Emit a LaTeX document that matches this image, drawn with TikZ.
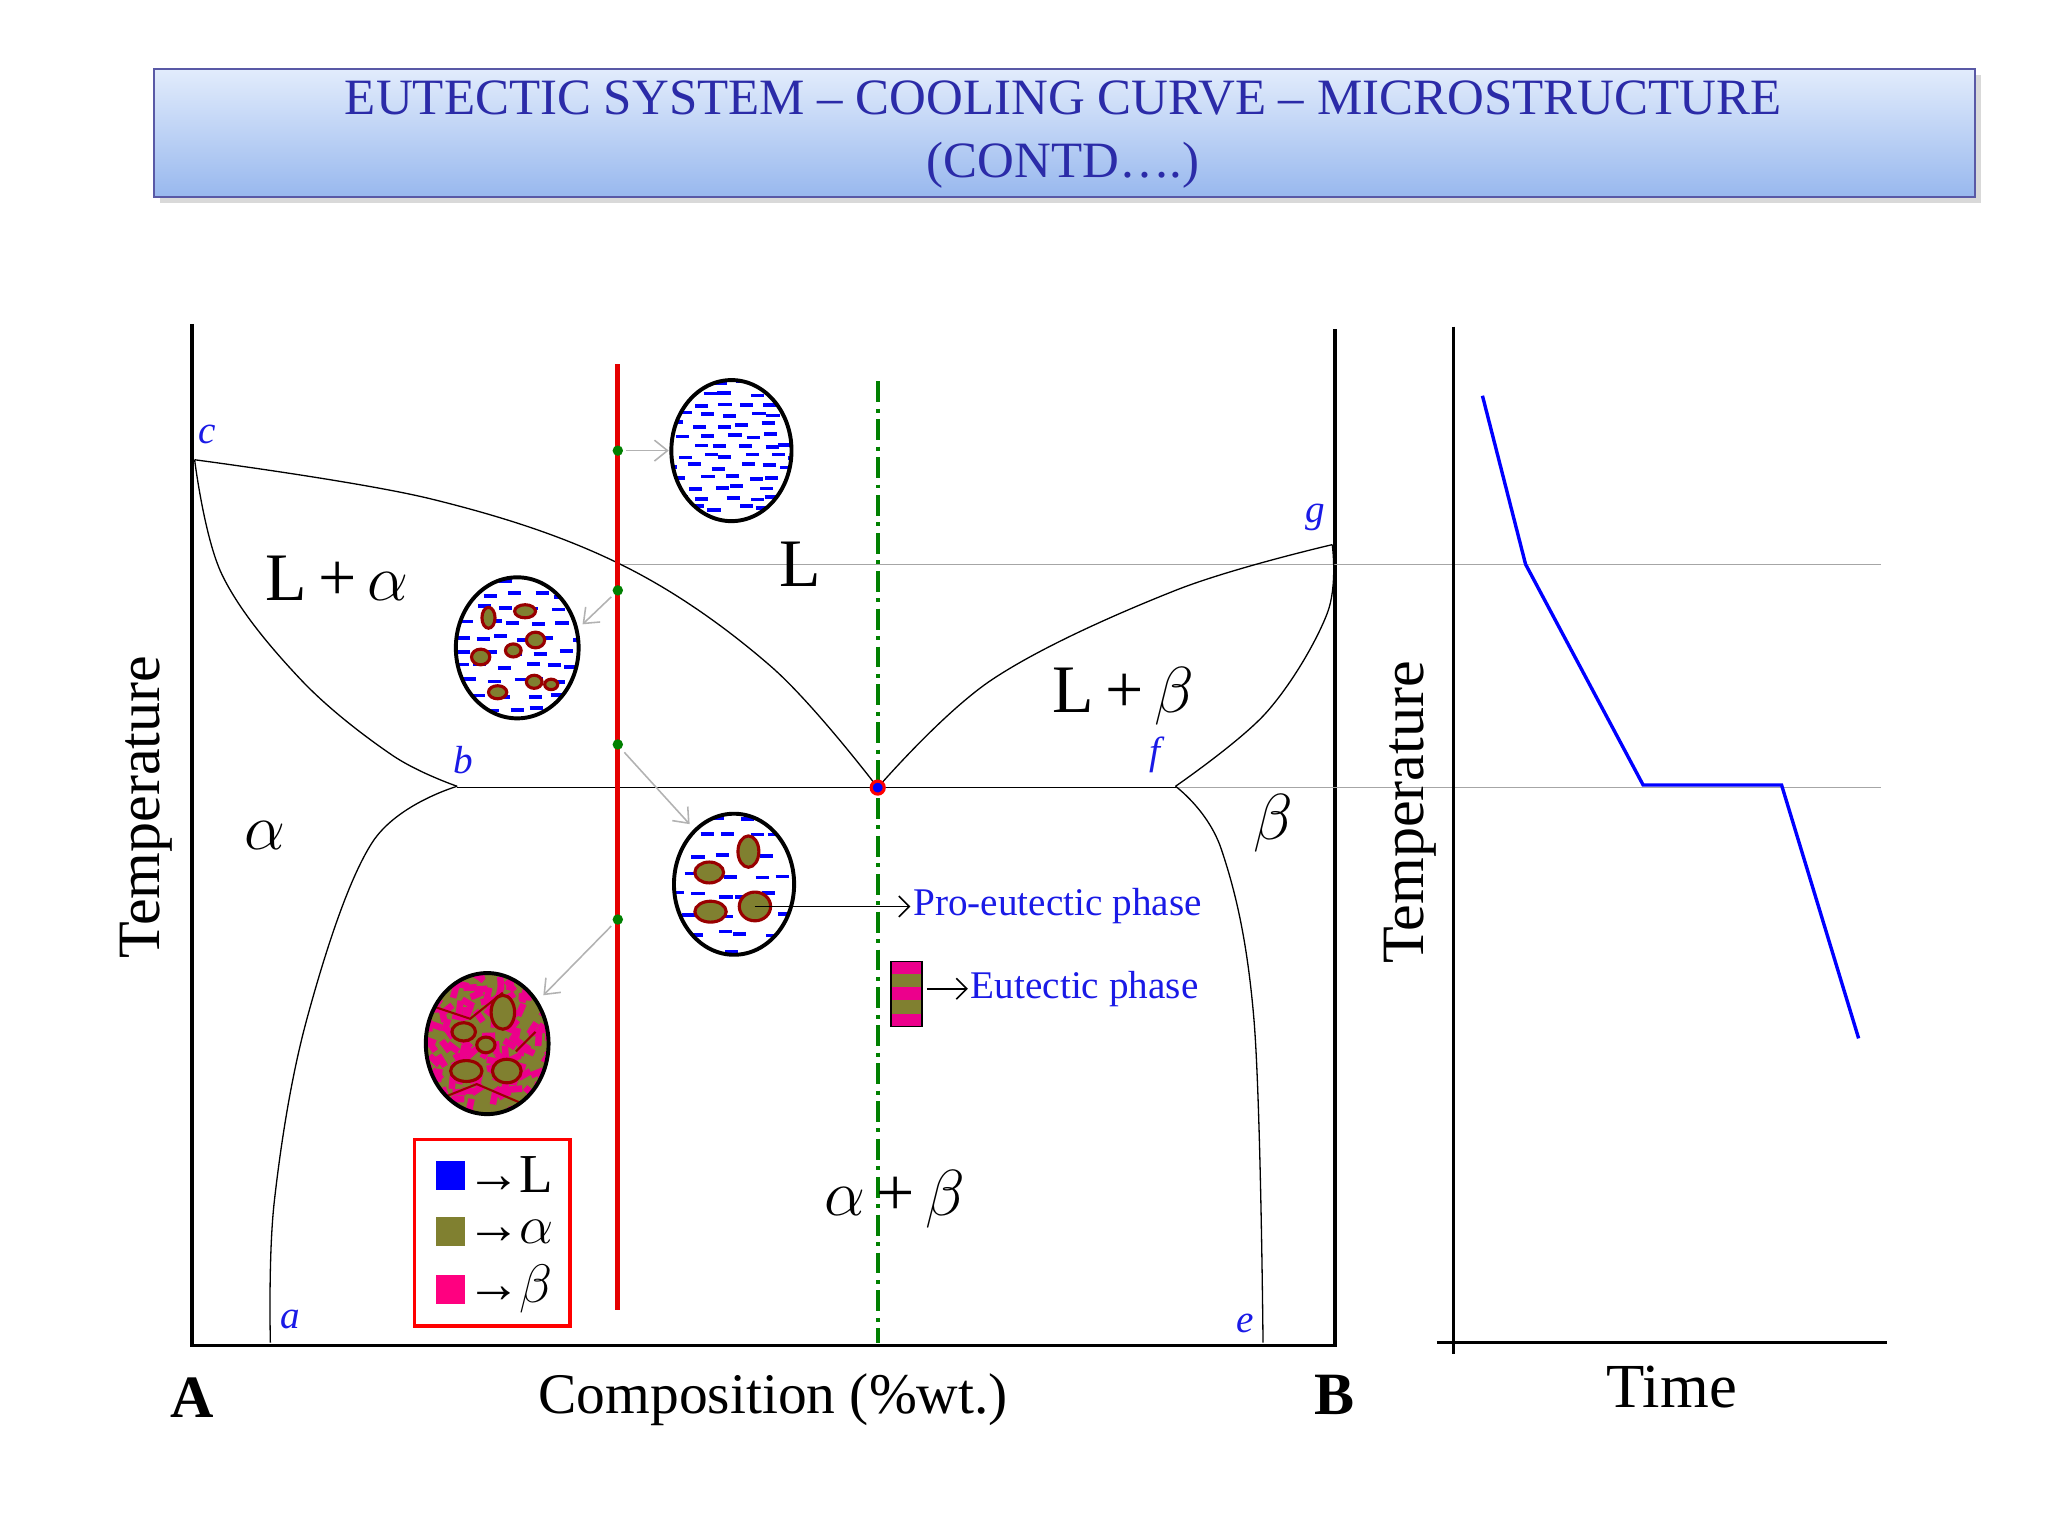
\documentclass[tikz,border=0pt]{standalone}
\usepackage{fontspec}
\setmainfont{Liberation Serif}
\usetikzlibrary{arrows.meta,shadows}
\definecolor{olv}{HTML}{808030}
\definecolor{drd}{HTML}{990000}
\definecolor{ttl}{HTML}{2B2BA8}
\definecolor{lblue}{HTML}{1A1AE6}
\definecolor{tbtop}{HTML}{E2ECFC}
\definecolor{tbbot}{HTML}{98B8EE}
\definecolor{pnk}{HTML}{FF0080}
\tikzset{
 crv/.style={black,line width=0.5pt},
 gl/.style={gray!70,line width=0.5pt},
 garr/.style={gray!60,line width=0.6pt,-{Straight Barb[length=5pt,width=8pt]}},
 big/.style={font=\fontsize{26}{30}\selectfont},
 sml/.style={font=\fontsize{15}{18}\selectfont\itshape,text=lblue},
 gdot/.style={circle,fill=green!50!black,inner sep=0pt,minimum size=4pt},
 grain/.style={fill=olv,draw=drd,line width=1.2pt},
 circ/.style={draw=black,line width=1.5pt}
}
\newcommand\dashfill[6]{% cx cy rx ry rowstep seed
 \begin{scope}
 \clip (#1,#2) ellipse [x radius=#3, y radius=#4];
 \fill[white] (#1,#2) ellipse [x radius=#3, y radius=#4];
 \pgfmathsetseed{#6}
 \foreach \j in {0,...,15}{
   \foreach \xx in {-50,-32,...,50}{
   \pgfmathsetmacro\dx{\xx+rnd*10+mod(\j,2)*8}
   \pgfmathsetmacro\dy{-54+\j*#5+rnd*4}
   \draw[blue,line width=1.4pt] (#1+\dx-5,#2+\dy) -- (#1+\dx+5,#2+\dy);
 }}
 \end{scope}}
\begin{document}
\begin{tikzpicture}[x=0.5pt,y=-0.5pt]
\useasboundingbox (0,0) rectangle (1568,1176);
% title
\node[draw=blue!30!gray,line width=0.8pt,top color=tbtop,bottom color=tbbot,
 minimum width=697pt,minimum height=49pt,drop shadow={opacity=0.3},anchor=north west,inner sep=0pt] (title) at (117,52) {};
\node[text=ttl,font=\fontsize{19.5}{24}\selectfont,align=center] (tt) at (814,103) {EUTECTIC SYSTEM -- COOLING CURVE -- MICROSTRUCTURE\\(CONTD….)};
% axes
\coordinate (A0) at (147,248); \coordinate (A1) at (147,1030);
\coordinate (B1) at (1022,1030); \coordinate (B0) at (1022,252);
\draw[line width=1.3pt] (A0) -- (A1) -- (B1) -- (B0);
% gray lines
\draw[gl] (475,432) -- (1440,432);
\draw[gl] (900,603) -- (1440,603);
% curves
\draw[crv] plot[smooth,tension=0.6] coordinates {(149,352) (330,382) (475,432) (590,510) (672,603)};
\draw[crv] plot[smooth,tension=0.6] coordinates {(672,603) (760,520) (900,452) (1020,417)};
\draw[crv] plot[smooth,tension=0.6] coordinates {(149,352) (170,440) (230,520) (300,578) (350,602)};
\draw[crv] (350,603) -- (900,603);
\draw[crv] plot[smooth,tension=0.6] coordinates {(350,602) (285,645) (235,780) (210,920) (207,1028)};
\draw[crv] plot[smooth,tension=0.6] coordinates {(1020,417) (1016,470) (970,545) (900,602)};
\draw[crv] plot[smooth,tension=0.6] coordinates {(900,602) (935,650) (960,780) (967,1028)};
% verticals
\draw[red!90!black,line width=1.8pt] (473,279) -- (473,1003);
\draw[green!50!black,line width=1.6pt,dash pattern=on 8pt off 2.5pt on 1.5pt off 2.5pt] (672,292) -- (672,1028);
\node[gdot] (p1) at (473,345) {};
\node[gdot] (p2) at (473,452) {};
\node[gdot] (p3) at (473,570) {};
\node[gdot] (p4) at (473,704) {};
\node[circle,fill=blue,draw=red,line width=1.2pt,inner sep=0pt,minimum size=5pt] (eu) at (672,603) {};
% microstructures
\dashfill{560}{345}{46}{54}{8}{3}
\draw[circ] (560,345) ellipse [x radius=46, y radius=54];
\dashfill{396}{496}{47}{54}{11}{5}
\foreach \x/\y/\a/\b in {374/473/5/8, 402/468/8/5, 368/503/7/6, 393/498/6/5, 410/490/7/6, 409/522/6/5, 381/530/7/5, 422/524/5/4}
  \draw[grain] (\x,\y) ellipse [x radius=\a, y radius=\b];
\draw[circ] (396,496) ellipse [x radius=47, y radius=54];
\dashfill{562}{677}{46}{54}{15}{7}
\foreach \x/\y/\a/\b in {573/652/8/12, 543/668/11/8, 544/698/12/8, 578/694/12/11}
  \draw[grain] (\x,\y) ellipse [x radius=\a, y radius=\b];
\draw[circ] (562,677) ellipse [x radius=46, y radius=54];
\begin{scope}
\clip (373,799) ellipse [x radius=47, y radius=54];
\fill[olv] (373,799) ellipse [x radius=47, y radius=54];
\pgfmathsetseed{11}
\foreach \k in {1,...,140}{
  \pgfmathsetmacro\dx{rnd*100-50}\pgfmathsetmacro\dy{rnd*110-55}\pgfmathsetmacro\an{rnd*180}
  \draw[magenta,line width=2.5pt] (373+\dx,799+\dy) -- ++(\an:10);
}
\foreach \x/\y/\a/\b in {385/775/9/13, 355/790/9/7, 388/820/11/9, 357/820/12/8, 372/800/7/6}
  \draw[grain] (\x,\y) ellipse [x radius=\a, y radius=\b];
\draw[drd,line width=0.8pt] (330,770)--(360,780)--(385,760) (340,840)--(365,830)--(400,845) (410,790)--(395,805);
\end{scope}
\draw[circ] (373,799) ellipse [x radius=47, y radius=54];
\coordinate (c1) at (512,345); \coordinate (c2) at (446,478);
\coordinate (c3) at (528,631); \coordinate (c4) at (416,762);
\draw[garr] (p1) ++(6,0) coordinate (q1) (q1) -- (c1);
\draw[garr] (p2) ++(-5,5) coordinate (q2) (q2) -- (c2);
\draw[garr] (p3) ++(5,6) coordinate (q3) (q3) -- (c3);
\draw[garr] (p4) ++(-5,5) coordinate (q4) (q4) -- (c4);
% pro-eutectic
\coordinate (g1) at (578,694);
\node[anchor=west,text=lblue,font=\fontsize{15}{18}\selectfont,inner sep=1pt] (pro) at (697,694) {Pro-eutectic phase};
\draw[-{Straight Barb[length=4pt,width=8pt]},line width=0.6pt] (g1) -- (pro.west);
\node[draw=black,line width=0.6pt,minimum width=12pt,minimum height=25pt,inner sep=0pt,
 path picture={\foreach \i in {0,...,4}{\fill[\ifodd\i olv\else magenta\fi] ([yshift=-\i*5pt]path picture bounding box.north west) rectangle ([yshift=-\i*5pt-5pt]path picture bounding box.north east);}}] (eb) at (694,761) {};
\node[anchor=west,text=lblue,font=\fontsize{15}{18}\selectfont,inner sep=1pt] (eut) at (741,757) {Eutectic phase};
\draw[-{Straight Barb[length=4pt,width=8pt]},line width=0.6pt] (eb.east|-eut.west) ++(3,0) coordinate (e0) (e0) -- (eut.west);
% labels
\node[sml] (lc) at (159,333) {c};
\node[sml] (lg) at (1007,396) {g};
\node[sml] (lb) at (355,582) {b};
\node[sml] (lf) at (884,578) {f};
\node[sml] (la) at (222,1010) {a};
\node[sml] (le) at (953,1013) {e};
\node[big] (r1) at (258,443) {L\,+\,$\alpha$};
\node[big] (r2) at (613,432) {L};
\node[big] (r3) at (860,533) {L\,+\,$\beta$};
\node[big] (r4) at (203,640) {$\alpha$};
\node[big] (r5) at (975,630) {$\beta$};
\node[big] (r6) at (685,918) {$\alpha$\,+\,$\beta$};
% legend
\node[draw=red,line width=1.3pt,minimum width=59.5pt,minimum height=71.5pt,anchor=north west,inner sep=0pt] (leg) at (316,871) {};
\fill[blue] (334,889) rectangle (356,911);
\fill[olv] (334,932) rectangle (356,954);
\fill[pnk] (334,976) rectangle (356,998);
\node[anchor=west,font=\fontsize{21}{24}\selectfont,inner sep=0pt] (l1) at (357,899) {→\kern-1ptL};
\node[anchor=west,font=\fontsize{21}{24}\selectfont,inner sep=0pt] (l2) at (357,943) {→\kern-1pt$\alpha$};
\node[anchor=west,font=\fontsize{21}{24}\selectfont,inner sep=0pt] (l3) at (357,987) {→\kern-1pt$\beta$};
% axis labels
\node[rotate=90,font=\fontsize{23}{26}\selectfont] (t1) at (112,618) {Temperature};
\node[font=\fontsize{23}{26}\selectfont\bfseries] (lA) at (147,1070) {A};
\node[font=\fontsize{23}{26}\selectfont\bfseries] (lB) at (1022,1068) {B};
\node[font=\fontsize{22}{26}\selectfont] (comp) at (592,1072) {Composition (\%wt.)};
% cooling curve
\coordinate (T0) at (1113,250); \coordinate (T1) at (1113,1037);
\coordinate (H0) at (1100,1028); \coordinate (H1) at (1445,1028);
\draw[line width=1.3pt] (T0) -- (T1) (H0) -- (H1);
\node[rotate=90,font=\fontsize{23}{26}\selectfont] (t2) at (1080,622) {Temperature};
\node[font=\fontsize{24}{26}\selectfont] (time) at (1280,1062) {Time};
\draw[blue,line width=1.3pt] (1135,303) -- (1168,432) -- (1258,601) -- (1364,601) -- (1423,795);
\end{tikzpicture}
\end{document}
